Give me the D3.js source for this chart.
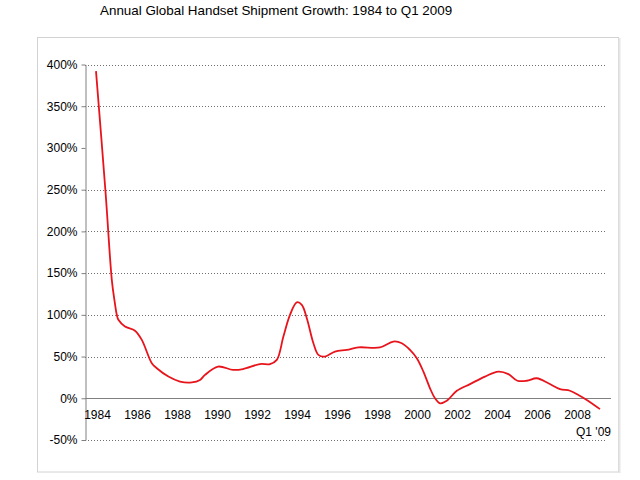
<!DOCTYPE html>
<html>
<head>
<meta charset="utf-8">
<script src="https://cdn.jsdelivr.net/npm/d3@7"></script>
<style>
  html, body { margin: 0; padding: 0; background: #fff; }
  svg { display: block; font-family: "Liberation Sans", Arial, sans-serif; }
</style>
</head>
<body>
<svg id="chart" width="640" height="480"></svg>
<script>
// ---- data ----
const title = "Annual Global Handset Shipment Growth: 1984 to Q1 2009";
const years = [1983.95, 1984.43, 1984.74, 1984.87, 1984.99, 1985.07, 1985.4, 1985.9, 1986.24, 1986.74,
  1986.99, 1987.57, 1988.15, 1988.74, 1989.15, 1989.4, 1990.05, 1990.8, 1991.3, 1992.15,
  1992.65, 1992.99, 1993.32, 1993.65, 1993.99, 1994.24, 1994.49, 1994.82, 1995.07, 1995.4,
  1995.9, 1996.49, 1997.07, 1998.15, 1998.82, 1999.24, 1999.65, 1999.99, 2000.32, 2000.65,
  2000.9, 2001.15, 2001.49, 2001.99, 2002.65, 2003.4, 2004.07, 2004.57, 2005.02, 2005.49,
  2005.99, 2006.57, 2007.15, 2007.65, 2008.07, 2008.49, 2009.15];
const growth = [392, 246, 142, 118, 100, 94, 86, 81, 70, 42,
  36, 26, 20, 19, 22, 28, 38, 34, 35, 41,
  41, 46, 74, 100, 115, 112, 96, 66, 52, 50,
  56, 58, 61, 61, 68, 66, 58, 48, 32, 12,
  0, -6, -3, 9, 17, 26, 32, 29, 21, 21,
  24, 18, 11, 9, 4, -2, -13];
const yTicks = [-50, 0, 50, 100, 150, 200, 250, 300, 350, 400];
const gridValues = [-50, 50, 100, 150, 200, 250, 350, 400];
const xTicks = [1984, 1986, 1988, 1990, 1992, 1994, 1996, 1998, 2000, 2002, 2004, 2006, 2008];
const lastLabel = "Q1 '09";

// ---- drawing ----
const svg = d3.select("#chart");
const x = d3.scaleLinear().domain([1983.4, 2009.7]).range([85, 611]);
const y = d3.scaleLinear().domain([-50, 400]).range([440, 64.5]);

// frame
svg.append("rect").attr("x", 37.5).attr("y", 37.5).attr("width", 581).attr("height", 434.5)
  .attr("fill", "none").attr("stroke", "#d2d2d2");
svg.append("line").attr("x1", 619.5).attr("x2", 619.5).attr("y1", 38).attr("y2", 473)
  .attr("stroke", "#e6e6e6").attr("stroke-width", 2);

// title
svg.append("text").attr("x", 100).attr("y", 14.5).attr("font-size", 13.4).attr("fill", "#000")
  .text(title);

// gridlines
svg.append("g").selectAll("line").data(gridValues).join("line")
  .attr("x1", 85).attr("x2", 607)
  .attr("y1", d => Math.round(y(d)) + 0.5).attr("y2", d => Math.round(y(d)) + 0.5)
  .attr("stroke", "#707070").attr("stroke-dasharray", "1,2");

// zero line
svg.append("line").attr("x1", 85).attr("x2", 611)
  .attr("y1", Math.round(y(0)) + 0.5).attr("y2", Math.round(y(0)) + 0.5)
  .attr("stroke", "#808080").attr("stroke-width", 1.2);

// y axis
const yAxis = svg.append("g").attr("transform", "translate(85.5,0)")
  .call(d3.axisLeft(y).tickValues(yTicks).tickSize(4).tickSizeOuter(0).tickPadding(4)
    .tickFormat(d => d + "%"));
yAxis.selectAll("path, line").attr("stroke", "#808080");
yAxis.selectAll("text").attr("font-size", 12).attr("fill", "#000")
  .attr("font-family", "'Liberation Sans', Arial, sans-serif");

// x axis labels
const xAxis = svg.append("g").attr("transform", `translate(0,${y(0)})`)
  .call(d3.axisBottom(x).tickValues(xTicks).tickSize(0).tickPadding(12.7).tickFormat(d3.format("d")));
xAxis.select(".domain").remove();
xAxis.selectAll("text").attr("font-size", 12).attr("fill", "#000")
  .attr("font-family", "'Liberation Sans', Arial, sans-serif");

svg.append("text").attr("x", 611).attr("y", 436).attr("text-anchor", "end")
  .attr("font-size", 12).attr("fill", "#000").text(lastLabel);

// line
const pts = years.map((yr, i) => [yr, growth[i]]);
svg.append("path").datum(pts)
  .attr("fill", "none").attr("stroke", "#e8141c").attr("stroke-width", 1.8)
  .attr("stroke-linejoin", "round")
  .attr("d", d3.line().x(d => x(d[0])).y(d => y(d[1])).curve(d3.curveCatmullRom.alpha(0.5)));
</script>
</body>
</html>
